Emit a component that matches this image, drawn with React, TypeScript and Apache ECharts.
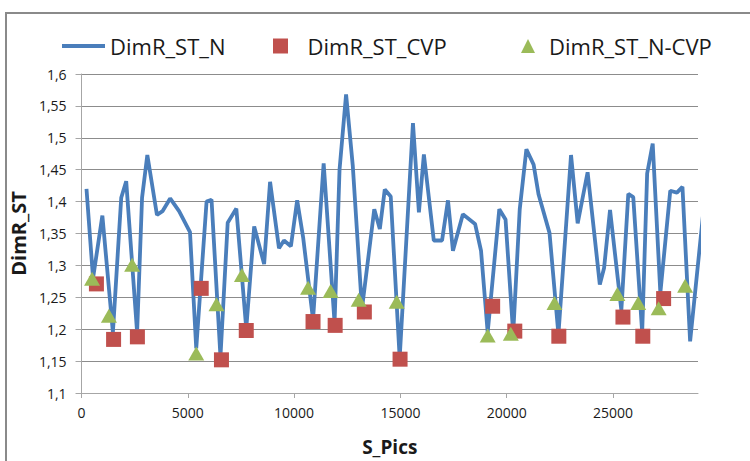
import React, { useEffect, useRef } from "react";
import * as echarts from "echarts";

const lineX = [233, 541, 980, 1475, 1867, 2101, 2614, 2847, 3095, 3548, 3809, 4168, 4589, 5102, 5396, 5882, 6115, 6535, 6876, 7282, 7749, 8122, 8589, 8869, 9289, 9523, 9849, 10144, 10424, 10890, 11390, 11903, 12137, 12445, 12758, 13192, 13771, 14032, 14265, 14545, 14966, 15591, 15871, 16105, 16571, 16959, 17239, 17472, 17939, 18513, 18793, 19106, 19652, 19946, 20306, 20614, 20927, 21267, 21501, 22014, 22434, 23027, 23340, 23807, 24381, 24582, 24862, 25394, 25721, 25954, 26374, 26608, 26869, 27229, 27695, 28008, 28269, 28629, 29300];
const lineY = [1.42, 1.28, 1.378, 1.195, 1.406, 1.432, 1.195, 1.406, 1.473, 1.379, 1.385, 1.405, 1.385, 1.352, 1.17, 1.4, 1.403, 1.157, 1.367, 1.389, 1.201, 1.361, 1.302, 1.431, 1.327, 1.339, 1.33, 1.402, 1.344, 1.215, 1.46, 1.21, 1.45, 1.568, 1.457, 1.232, 1.388, 1.357, 1.419, 1.408, 1.155, 1.523, 1.383, 1.474, 1.339, 1.339, 1.402, 1.323, 1.38, 1.365, 1.323, 1.195, 1.388, 1.372, 1.193, 1.388, 1.482, 1.458, 1.411, 1.351, 1.192, 1.473, 1.366, 1.446, 1.27, 1.296, 1.387, 1.23, 1.412, 1.407, 1.195, 1.444, 1.491, 1.257, 1.417, 1.414, 1.423, 1.181, 1.4];

const cvpX = [700, 1508, 2628, 5630, 6582, 7749, 10890, 11931, 13304, 14984, 19340, 20381, 22453, 25469, 26403, 27383];
const cvpY = [1.271, 1.184, 1.188, 1.264, 1.152, 1.198, 1.212, 1.206, 1.227, 1.153, 1.236, 1.197, 1.189, 1.219, 1.189, 1.248];

const ncvpX = [495, 1288, 2381, 5396, 6348, 7544, 10657, 11717, 13038, 14826, 19106, 20194, 22248, 25207, 26187, 27149, 28395];
const ncvpY = [1.279, 1.221, 1.301, 1.162, 1.239, 1.285, 1.265, 1.26, 1.246, 1.243, 1.19, 1.193, 1.241, 1.255, 1.241, 1.233, 1.268];

const seriesNames = ["DimR_ST_N", "DimR_ST_CVP", "DimR_ST_N-CVP"];
const xTitle = "S_Pics";
const yTitle = "DimR_ST";

const zip = (xs: number[], ys: number[]) => xs.map((x, i) => [x, ys[i]]);

const FONT = "'Open Sans', 'Noto Sans', sans-serif";

export default function App() {
  const ref = useRef<HTMLDivElement>(null);
  useEffect(() => {
    if (!ref.current) return;
    const chart = echarts.init(ref.current, undefined, { renderer: "svg" });
    const legendText = { fontFamily: FONT, fontSize: 22, color: "#1a1a1a", lineHeight: 28 };
    chart.setOption({
      animation: false,
      backgroundColor: "#ffffff",
      graphic: [
        {
          type: "rect",
          shape: { x: 6, y: 13, width: 800, height: 500 },
          style: { fill: "none", stroke: "#8a8a8a", lineWidth: 2 },
          silent: true,
        },
      ],
      legend: [
        {
          data: [{ name: seriesNames[0], icon: "path://M0,0L1,0L1,1L0,1Z", itemStyle: { color: "#4a7ebb" } }],
          left: 57,
          top: 27,
          itemWidth: 43,
          itemHeight: 4,
          symbolKeepAspect: false,
          textStyle: legendText,
        },
        {
          data: [{ name: seriesNames[1], icon: "path://M0,0L1,0L1,1L0,1Z" }],
          left: 268,
          top: 27,
          itemWidth: 44,
          itemHeight: 15,
          textStyle: legendText,
        },
        {
          data: [{ name: seriesNames[2], icon: "path://M0.5,0L1,1L0,1Z" }],
          left: 516,
          top: 27,
          itemWidth: 32,
          itemHeight: 14,
          textStyle: legendText,
        },
      ],
      grid: { left: 76.7, right: 52, top: 74, bottom: 62.3, containLabel: false },
      xAxis: {
        type: "value",
        min: 0,
        max: 29000,
        interval: 5000,
        name: xTitle,
        nameLocation: "middle",
        nameGap: 44,
        nameTextStyle: { fontFamily: FONT, fontSize: 19, fontWeight: "bold", color: "#1a1a1a" },
        axisLine: { show: true, lineStyle: { color: "#a6a6a6", width: 1 } },
        axisTick: { show: true, inside: false, length: 5, lineStyle: { color: "#a6a6a6" } },
        axisLabel: {
          showMaxLabel: false,
          margin: 12,
          fontFamily: FONT,
          fontSize: 14,
          color: "#1a1a1a",
          formatter: (v: number) => String(v),
        },
        splitLine: { show: false },
      },
      yAxis: {
        type: "value",
        min: 1.1,
        max: 1.6,
        interval: 0.05,
        name: yTitle,
        nameLocation: "middle",
        nameGap: 41,
        nameRotate: 90,
        nameTextStyle: { fontFamily: FONT, fontSize: 20, fontWeight: "bold", color: "#1a1a1a" },
        axisLine: { show: true, lineStyle: { color: "#a6a6a6", width: 1 } },
        axisTick: { show: true, inside: false, length: 6, lineStyle: { color: "#a6a6a6" } },
        axisLabel: {
          margin: 15,
          fontFamily: FONT,
          fontSize: 14,
          color: "#1a1a1a",
          formatter: (v: number) => String(parseFloat(v.toFixed(2))).replace(".", ","),
        },
        splitLine: { show: true, lineStyle: { color: "#8c8c8c", width: 1 } },
      },
      series: [
        {
          name: seriesNames[0],
          type: "line",
          data: zip(lineX, lineY),
          symbol: "none",
          clip: true,
          lineStyle: { color: "#4a7ebb", width: 3.8 },
          itemStyle: { color: "#4a7ebb" },
          z: 2,
        },
        {
          name: seriesNames[1],
          type: "scatter",
          data: zip(cvpX, cvpY),
          symbol: "rect",
          symbolSize: 15,
          itemStyle: { color: "#c0504d", opacity: 1 },
          z: 3,
        },
        {
          name: seriesNames[2],
          type: "scatter",
          data: zip(ncvpX, ncvpY),
          symbol: "triangle",
          symbolSize: [16, 14],
          itemStyle: { color: "#9bbb59", opacity: 1 },
          z: 4,
        },
      ],
    });
    return () => chart.dispose();
  }, []);
  return (
    <div
      ref={ref}
      style={{ position: "fixed", left: 0, top: 0, width: 750, height: 461, background: "#fff" }}
    />
  );
}
